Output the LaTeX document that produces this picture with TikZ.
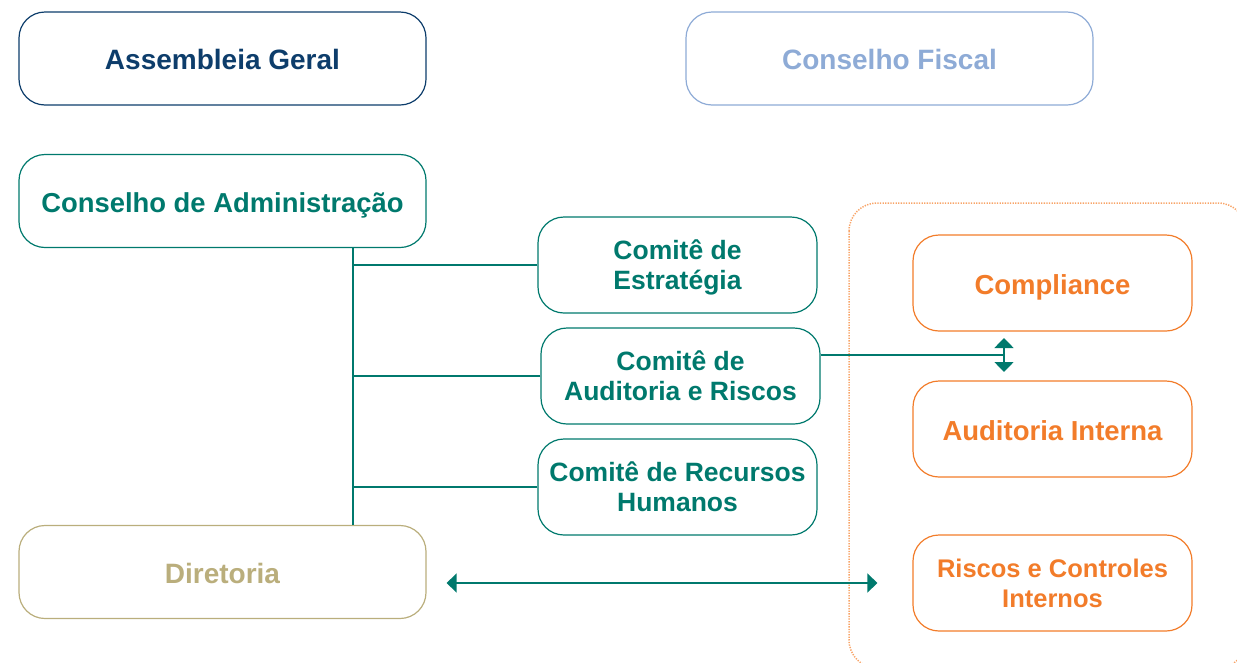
\documentclass[tikz,border=0pt]{standalone}
\usepackage{fontspec}
\setmainfont{Liberation Sans}
\usetikzlibrary{arrows.meta,calc}
\definecolor{dblue}{HTML}{0D3D6B}
\definecolor{lblue}{HTML}{8EABD6}
\definecolor{teal2}{HTML}{00796D}
\definecolor{khaki}{HTML}{BAAE7C}
\definecolor{orng}{HTML}{F27C2A}
\definecolor{lorng}{HTML}{F8A468}
\newcommand\twol[2]{\begin{tabular}[t]{@{}c@{}}#1\\#2\end{tabular}}
\begin{document}
\begin{tikzpicture}[x=1pt,y=-1pt,
  box/.style={draw, rounded corners=26pt, line width=1.2pt, minimum width=407pt, minimum height=93pt,
    font=\fontsize{28}{30}\selectfont\bfseries, inner sep=0pt, text height=22pt, text depth=0pt},
  cbox/.style={box, minimum width=279pt, minimum height=96pt, font=\fontsize{27.5}{30}\selectfont\bfseries},
  tbox/.style={cbox, font=\fontsize{26.5}{30}\selectfont\bfseries, text height=19pt, text depth=30pt},
  conn/.style={teal2, line width=1.3pt},
  dbl/.style={conn, line width=1.6pt, {Triangle[length=10pt,width=19pt]}-{Triangle[length=10pt,width=19pt]}}]
\useasboundingbox (0,0) rectangle (1237,662);
\node[box, dblue, text=dblue] (ag) at (222.5,58.5) {Assembleia Geral};
\node[box, lblue, text=lblue] (cf) at (889.5,58.5) {Conselho Fiscal};
\node[box, teal2, text=teal2, font=\fontsize{27.4}{30}\selectfont\bfseries] (ca) at (222.5,201) {Conselho de Administração};
\node[box, khaki, text=khaki] (dir) at (222.5,572) {Diretoria};
\node[tbox, teal2, text=teal2] (ce) at (677.5,265) {\twol{Comitê de}{Estratégia}};
\node[tbox, teal2, text=teal2] (car) at (680.5,376) {\twol{Comitê de}{Auditoria e Riscos}};
\node[tbox, teal2, text=teal2] (crh) at (677.5,487) {\twol{Comitê de Recursos}{Humanos}};
\node[cbox, orng, text=orng] (comp) at (1052.5,283) {Compliance};
\node[cbox, orng, text=orng] (ai) at (1052.5,429) {Auditoria Interna};
\node[tbox, orng, text=orng, font=\fontsize{25.5}{30}\selectfont\bfseries] (rci) at (1052.5,583) {\twol{Riscos e Controles}{Internos}};
\begin{scope}
\clip (0,0) rectangle (1237,662);
\draw[lorng, line width=1.5pt, dash pattern=on 1.3pt off 1.3pt, rounded corners=28pt] (849,203) rectangle (1246,668);
\end{scope}
% spine
\coordinate (sT) at ($(ca.south)+(130.5,0)$);
\coordinate (sB) at ($(dir.north)+(130.5,0)$);
\draw[conn] (sT) -- (sB);
\draw[conn] (ce.west) -- (ce.west -| sT);
\draw[conn] (car.west) -- (car.west -| sT);
\draw[conn] (crh.west) -- (crh.west -| sT);
% compliance / auditoria link
\coordinate (c1) at ($(car.east)+(0,-21)$);
\coordinate (am) at ($(comp.south)!0.5!(ai.north)+(-48.5,0)$);
\coordinate (aU) at ($(am)+(0,-18)$);
\coordinate (aD) at ($(am)+(0,16)$);
\draw[conn] (c1) -- (c1 -| am);
\draw[dbl] (aU) -- (aD);
% diretoria arrow
\coordinate (h1) at ($(dir.east)+(20,11)$);
\coordinate (h2) at ($(rci.west)+(-35,0)$);
\draw[dbl] (h1) -- (h2);
\end{tikzpicture}
\end{document}
